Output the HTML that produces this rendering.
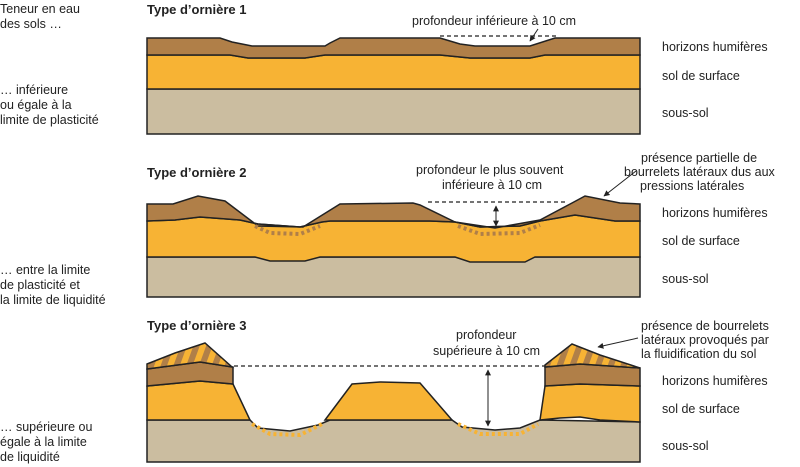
<!DOCTYPE html>
<html><head><meta charset="utf-8"><style>
html,body{margin:0;padding:0;background:#fff;}
svg{display:block;}
text{font-family:"Liberation Sans",sans-serif;font-size:12.5px;fill:#222;}
.b{font-weight:bold;font-size:13px;}
.l{stroke:#222;stroke-width:1.5;}
</style></head><body>
<svg width="800" height="467" viewBox="0 0 800 467">
<defs>
<marker id="a" viewBox="0 0 10 10" refX="9" refY="5" markerWidth="6" markerHeight="6" orient="auto-start-reverse"><path d="M0,0 L10,5 L0,10z" fill="#222"/></marker>
<pattern id="st" width="12" height="12" patternUnits="userSpaceOnUse" patternTransform="rotate(20)"><rect width="12" height="12" fill="#f7b334"/><rect width="6" height="12" fill="#b07f48"/></pattern>
</defs>
<text x="0" y="13">Teneur en eau</text><text x="0" y="28">des sols …</text>
<text x="0" y="94">… inférieure</text><text x="0" y="109">ou égale à la</text><text x="0" y="124">limite de plasticité</text>
<text x="0" y="274">… entre la limite</text><text x="0" y="289">de plasticité et</text><text x="0" y="304">la limite de liquidité</text>
<text x="0" y="431">… supérieure ou</text><text x="0" y="446">égale à la limite</text><text x="0" y="461">de liquidité</text>
<g>
<text x="662" y="51">horizons humifères</text><text x="662" y="80">sol de surface</text><text x="662" y="117">sous-sol</text>
<text x="662" y="217">horizons humifères</text><text x="662" y="245">sol de surface</text><text x="662" y="283">sous-sol</text>
<text x="662" y="385">horizons humifères</text><text x="662" y="413">sol de surface</text><text x="662" y="450">sous-sol</text>
</g>
<!-- Diagram 1 -->
<text x="147" y="14" class="b">Type d’ornière 1</text>
<rect x="147" y="89" width="493" height="45" fill="#cbbda0" class="l"/>
<path d="M147,55 L230,55 L248,58 L305,58 L325,55 L440,55 L470,58 L530,58 L545,55 L640,55 L640,89 L147,89z" fill="#f7b334" class="l"/>
<path d="M147,38 L220,38 L232,42 L252,46 L325,46 L330,43 L340,38 L440,38 L460,44 L475,46 L530,46 L555,38 L640,38 L640,55 L545,55 L530,58 L470,58 L440,55 L325,55 L305,58 L248,58 L230,55 L147,55z" fill="#b07f48" class="l"/>
<line x1="440" y1="36" x2="557" y2="36" stroke="#222" stroke-width="1.3" stroke-dasharray="4,3"/>
<line x1="538" y1="29" x2="530" y2="41" stroke="#222" stroke-width="1" marker-end="url(#a)"/>
<text x="412" y="25">profondeur inférieure à 10 cm</text>
<!-- Diagram 2 -->
<text x="147" y="177" class="b">Type d’ornière 2</text>
<rect x="147" y="257" width="493" height="40" fill="#cbbda0" class="l"/>
<path d="M147,221 L175,220 L200,217 L240,220 L258,224 L300,227 L322,222 L330,221 L430,221 L455,222 L480,227 L520,226 L540,221 L575,215 L615,221 L640,221 L640,257 L535,257 L525,262 L470,262 L455,257 L320,257 L305,261 L270,261 L255,257 L147,257z" fill="#f7b334" class="l"/>
<path d="M147,204 L173,204 L198,196 L225,201 L258,226 L303,227 L340,204 L413,203 L420,205 L455,222 L495,228 L540,220 L572,203 L585,196 L620,203 L640,204 L640,221 L615,221 L575,215 L540,221 L520,226 L480,227 L455,222 L430,221 L330,221 L322,222 L300,227 L258,224 L240,220 L200,217 L175,220 L147,221z" fill="#b07f48" class="l"/>
<path d="M255,226 L270,233 L300,234 L320,226" stroke="#b07f48" stroke-width="4" stroke-dasharray="3,3" fill="none"/>
<path d="M458,226 L480,234 L520,233 L540,225" stroke="#b07f48" stroke-width="4" stroke-dasharray="3,3" fill="none"/>
<line x1="428" y1="202" x2="568" y2="202" stroke="#222" stroke-width="1.3" stroke-dasharray="4,3"/>
<line x1="496" y1="206" x2="496" y2="226" stroke="#222" stroke-width="1" marker-start="url(#a)" marker-end="url(#a)"/>
<line x1="636" y1="171" x2="604" y2="196" stroke="#222" stroke-width="1" marker-end="url(#a)"/>
<text x="416" y="174">profondeur le plus souvent</text><text x="442" y="189">inférieure à 10 cm</text>
<text x="641" y="162">présence partielle de</text><text x="624" y="176">bourrelets latéraux dus aux</text><text x="640" y="190">pressions latérales</text>
<!-- Diagram 3 -->
<text x="147" y="330" class="b">Type d’ornière 3</text>
<path d="M147,420 L250,420 L258,428 L290,431 L318,425 L330,420 L452,420 L462,427 L495,430 L520,428 L540,420 L640,422 L640,462 L147,462z" fill="#cbbda0" class="l"/>
<path d="M147,386 L200,381 L233,384 L250,420 L147,420z" fill="#f7b334" class="l"/>
<path d="M147,369 L200,362 L233,367 L233,384 L200,381 L147,386z" fill="#b07f48" class="l"/>
<path d="M147,364 L175,353 L205,343 L232,367 L200,362 L147,369z" fill="url(#st)" class="l"/>
<path d="M325,420 L352,384 L380,382 L420,383 L452,420z" fill="#f7b334" class="l"/>
<path d="M640,386 L580,384 L545,386 L540,420 L560,418 L580,417 L600,420 L640,422z" fill="#f7b334" class="l"/>
<path d="M545,367 L580,364 L640,368 L640,386 L580,384 L545,386z" fill="#b07f48" class="l"/>
<path d="M545,365 L572,344 L600,355 L640,368 L580,364 L545,367z" fill="url(#st)" class="l"/>
<path d="M252,424 L270,434 L300,435 L322,424" stroke="#f7b334" stroke-width="4" stroke-dasharray="3,3" fill="none"/>
<path d="M458,424 L480,434 L520,434 L538,424" stroke="#f7b334" stroke-width="4" stroke-dasharray="3,3" fill="none"/>
<line x1="234" y1="366" x2="545" y2="366" stroke="#222" stroke-width="1.3" stroke-dasharray="4,3"/>
<line x1="488" y1="370" x2="488" y2="426" stroke="#222" stroke-width="1" marker-start="url(#a)" marker-end="url(#a)"/>
<line x1="638" y1="338" x2="598" y2="347" stroke="#222" stroke-width="1" marker-end="url(#a)"/>
<text x="456" y="339">profondeur</text><text x="433" y="355">supérieure à 10 cm</text>
<text x="641" y="330">présence de bourrelets</text><text x="641" y="344">latéraux provoqués par</text><text x="641" y="358">la fluidification du sol</text>
</svg>
</body></html>
